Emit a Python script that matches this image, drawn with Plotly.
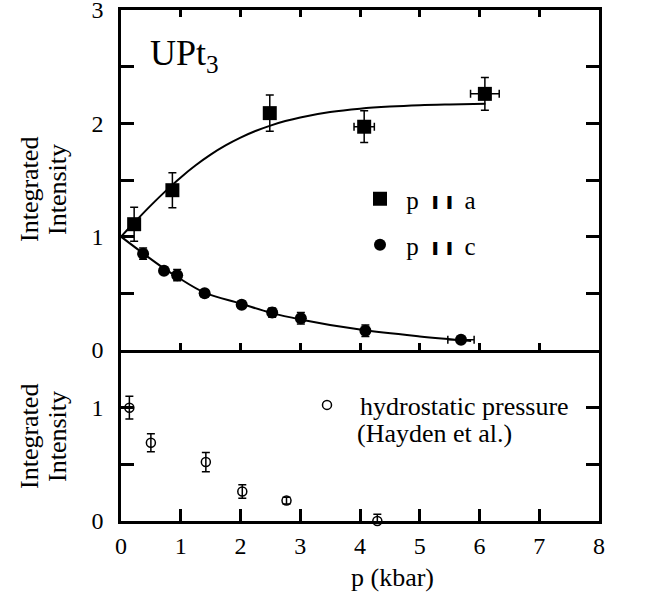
import plotly.graph_objects as go

# ---- data ----
pa_p = [0.22, 0.86, 2.49, 4.07, 6.09]
pa_I = [1.11, 1.41, 2.09, 1.97, 2.26]
pa_err = [0.15, 0.155, 0.16, 0.14, 0.145]
pa_perr = [0, 0, 0, 0.17, 0.24]

pc_p = [0.37, 0.72, 0.94, 1.40, 2.02, 2.53, 3.01, 4.09, 5.69]
pc_I = [0.85, 0.70, 0.66, 0.50, 0.40, 0.33, 0.28, 0.17, 0.09]
pc_err = [0.05, 0.03, 0.05, 0.03, 0.03, 0.04, 0.05, 0.05, 0.02]
pc_perr = [0, 0, 0, 0, 0, 0, 0, 0, 0.22]

fit_a_p = [0, 0.25, 0.5, 0.75, 1.0, 1.25, 1.5, 1.75, 2.0, 2.25, 2.5, 2.75, 3.0, 3.5, 4.0, 4.5, 5.0, 5.5, 6.1]
fit_a_I = [1.00, 1.14, 1.276, 1.404, 1.523, 1.63, 1.724, 1.805, 1.874, 1.932, 1.98, 2.02, 2.052,
           2.099, 2.129, 2.148, 2.16, 2.167, 2.173]

fit_c_p = [0, 0.37, 0.72, 0.94, 1.4, 2.0, 2.5, 3.0, 4.0, 5.0, 5.86]
fit_c_I = [1.0, 0.853, 0.72, 0.645, 0.506, 0.41, 0.33, 0.27, 0.18, 0.12, 0.08]

hy_p = [0.14, 0.50, 1.42, 2.03, 2.77, 4.29]
hy_I = [1.00, 0.69, 0.52, 0.26, 0.18, 0.00]
hy_err = [0.10, 0.08, 0.085, 0.06, 0.03, 0.06]

x_ticks = [0, 1, 2, 3, 4, 5, 6, 7, 8]
top_yticks = [0, 0.5, 1, 1.5, 2, 2.5, 3]
top_yticklabels = ["0", "", "1", "", "2", "", "3"]
bot_yticks = [0, 0.5, 1]
bot_yticklabels = ["0", "", "1"]

FONT = "Liberation Serif"
NB = "\u00a0"
TS = "\u2009"

fig = go.Figure()

fig.add_trace(go.Scatter(x=fit_a_p, y=fit_a_I, mode="lines", line=dict(color="black", width=2, shape="spline"),
                         showlegend=False, xaxis="x", yaxis="y"))
fig.add_trace(go.Scatter(x=fit_c_p, y=fit_c_I, mode="lines", line=dict(color="black", width=2, shape="spline"),
                         showlegend=False, xaxis="x", yaxis="y"))

bar_sym = "<span style='font-family:DejaVu Sans;font-size:23px;font-weight:bold'>\u0131</span>"
par = NB * 2 + bar_sym + NB + bar_sym + NB + TS
fig.add_trace(go.Scatter(
    x=pa_p, y=pa_I, mode="markers",
    marker=dict(symbol="square", size=14, color="black"),
    error_y=dict(type="data", array=pa_err, color="black", thickness=1.5, width=4),
    error_x=dict(type="data", array=pa_perr, color="black", thickness=1.5, width=4),
    name=NB + "p" + par + "a",
    legend="legend", xaxis="x", yaxis="y"))
fig.add_trace(go.Scatter(
    x=pc_p, y=pc_I, mode="markers",
    marker=dict(symbol="circle", size=12, color="black"),
    error_y=dict(type="data", array=pc_err, color="black", thickness=1.5, width=4),
    error_x=dict(type="data", array=pc_perr, color="black", thickness=1.5, width=4),
    name=NB + "p" + par + "c",
    legend="legend2", xaxis="x", yaxis="y"))
fig.add_trace(go.Scatter(
    x=hy_p, y=hy_I, mode="markers", cliponaxis=False,
    marker=dict(symbol="circle-open", size=9, color="black", line=dict(width=1.5, color="black")),
    error_y=dict(type="data", array=hy_err, color="black", thickness=1.5, width=4),
    name=NB * 2 + "hydrostatic pressure",
    legend="legend3", xaxis="x2", yaxis="y2"))

ax_common = dict(showgrid=False, zeroline=False, linecolor="black", linewidth=2.5,
                 tickcolor="black", tickwidth=2.5, ticks="inside", automargin=False,
                 ticklabeloverflow="allow",
                 tickfont=dict(family=FONT, size=24, color="black"))

split = 171 / 511

def py(pix):
    return (521 - pix) / 511

def px(pix):
    return (pix - 121) / 478

leg_font = dict(family=FONT, size=25, color="black")
title_font = dict(family=FONT, size=26, color="black")

fig.update_layout(
    width=665, height=601,
    margin=dict(l=121, r=66, t=10, b=80),
    paper_bgcolor="white", plot_bgcolor="white",
    xaxis=dict(**ax_common, showline=True, domain=[0, 1], anchor="y", range=[0, 8], tickvals=x_ticks,
               showticklabels=False, ticklen=7, mirror="ticks"),
    yaxis=dict(**ax_common, showline=True, domain=[split, 1], anchor="x", range=[0, 3], tickvals=top_yticks,
               ticktext=top_yticklabels, ticklen=13, mirror="ticks", ticklabelstandoff=10),
    xaxis2=dict(**ax_common, showline=True, domain=[0, 1], anchor="y2", range=[0, 8], tickvals=x_ticks,
                ticklen=12, mirror=False, ticklabelstandoff=1),
    xaxis3=dict(**ax_common, showline=False, overlaying="x2", anchor="y2", side="top", range=[0, 8],
                tickvals=x_ticks, ticklen=7, showticklabels=False),
    yaxis2=dict(**ax_common, showline=True, domain=[0, split], anchor="x2", range=[0, 171 / (340 / 3)],
                tickvals=bot_yticks, ticktext=bot_yticklabels, ticklen=13, mirror="ticks",
                ticklabelstandoff=10),
    legend=dict(x=px(360), y=py(199), xanchor="left", yanchor="middle",
                font=leg_font, bgcolor="rgba(0,0,0,0)"),
    legend2=dict(x=px(360), y=py(245), xanchor="left", yanchor="middle",
                 font=leg_font, bgcolor="rgba(0,0,0,0)"),
    legend3=dict(x=px(307), y=py(405), xanchor="left", yanchor="middle",
                 font=dict(family=FONT, size=26, color="black"), bgcolor="rgba(0,0,0,0)"),
    annotations=[
        dict(text="UPt<sub>3</sub>", xref="paper", yref="paper", x=px(148), y=py(31),
             xanchor="left", yanchor="top", showarrow=False,
             font=dict(family=FONT, size=36, color="black")),
        dict(text="(Hayden et al.)", xref="paper", yref="paper", x=px(355), y=py(433),
             xanchor="left", yanchor="middle", showarrow=False,
             font=dict(family=FONT, size=26, color="black")),
        dict(text="Integrated", xref="paper", yref="paper", x=px(29), y=py(190),
             xanchor="center", yanchor="middle", textangle=-90, showarrow=False, font=title_font),
        dict(text="Intensity", xref="paper", yref="paper", x=px(57), y=py(190),
             xanchor="center", yanchor="middle", textangle=-90, showarrow=False, font=title_font),
        dict(text="Integrated", xref="paper", yref="paper", x=px(29), y=py(437),
             xanchor="center", yanchor="middle", textangle=-90, showarrow=False, font=title_font),
        dict(text="Intensity", xref="paper", yref="paper", x=px(57), y=py(437),
             xanchor="center", yanchor="middle", textangle=-90, showarrow=False, font=title_font),
        dict(text="p (kbar)", xref="paper", yref="paper", x=px(392), y=py(577),
             xanchor="center", yanchor="middle", showarrow=False,
             font=dict(family=FONT, size=26, color="black")),
    ],
)

fig.write_html("out.html")
